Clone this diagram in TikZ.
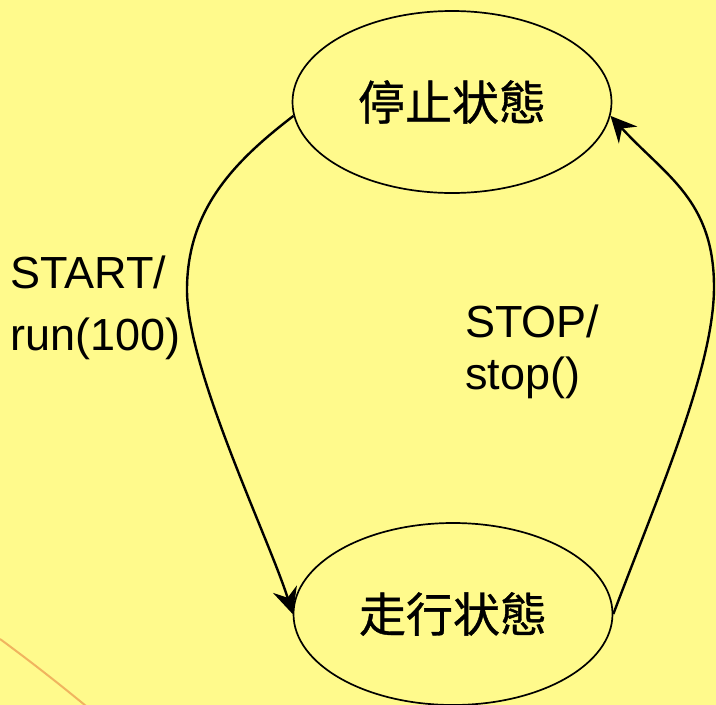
\documentclass[tikz,border=0pt]{standalone}
\usepackage{fontspec}
\setmainfont{Liberation Sans}
\newfontfamily\cjk[FakeBold=0.8]{Noto Sans CJK TC}
\usetikzlibrary{shapes.geometric,arrows.meta}
\definecolor{bgyellow}{RGB}{255,250,140}
\definecolor{arcorange}{RGB}{240,180,95}
\tikzset{
  statebox/.style={ellipse, draw=black, line width=1.7pt, minimum width=319pt, minimum height=182pt, inner sep=0pt, font=\cjk\fontsize{47pt}{56pt}\selectfont},
  trans/.style={draw=black, line width=2.4pt, -{Stealth[length=26pt,width=25pt,inset=9pt]}},
  lbl/.style={anchor=base west, inner sep=0pt, align=left}
}
\begin{document}
\begin{tikzpicture}[x=1pt,y=-1pt]
\fill[bgyellow] (0,0) rectangle (716,705);
\useasboundingbox (0,0) rectangle (716,705);
\draw[arcorange, line width=2pt] (0,639) .. controls (30,661) and (58,683) .. (86,706);
\node[statebox] (stop) at (452,102) {停止状態};
\node[statebox] (run) at (453,614) {走行状態};
\coordinate (lm) at (187,290);
\coordinate (rm) at (714,287);
\draw[trans] (stop.185) .. controls +(-60,46) and +(0,-80) .. (lm) .. controls +(0,80) and +(-23,-74) .. (run.west);
\draw[trans] (run.east) .. controls +(46,-122) and +(0,80) .. (rm) .. controls +(0,-87) and +(55,60) .. (stop.355);
\node[lbl, font=\fontsize{45pt}{62pt}\selectfont] (startlbl) at (10,350) {START/\\run(100)};
\node[lbl, font=\fontsize{45pt}{52pt}\selectfont] (stoplbl) at (465,389) {STOP/\\stop()};
\end{tikzpicture}
\end{document}
